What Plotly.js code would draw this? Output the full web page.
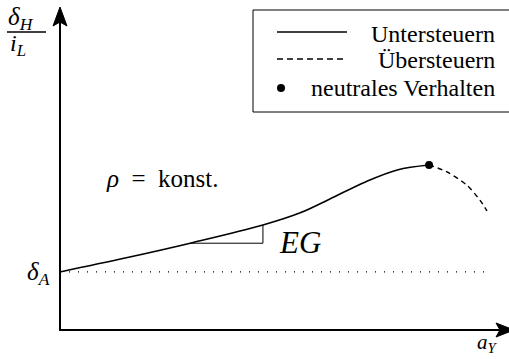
<!DOCTYPE html>
<html>
<head>
<meta charset="utf-8">
<script src="https://cdn.plot.ly/plotly-3.0.1.min.js"></script>
<style>html,body{margin:0;padding:0;background:#fff;}#chart{width:509px;height:359px;}</style>
</head>
<body>
<div id="chart"></div>
<script>
// Understeer branch (solid) (arbitrary units)
const underX = [0, 1.45, 2.90, 4.52, 5.35, 6.01, 6.79, 7.51, 8.22];
const underY = [1.76, 2.18, 2.63, 3.18, 3.55, 3.97, 4.48, 4.85, 5.00];
// Oversteer branch (dashed)
const overX = [8.22, 8.62, 9.06, 9.35, 9.51];
const overY = [5.00, 4.79, 4.39, 3.94, 3.61];
// Neutral point
const neutralX = [8.22];
const neutralY = [5.00];
// delta_A level
const deltaA = underY[0];
// Slope triangle (EG) anchored on curve points
const triStart = 2, triEnd = 3;

const legendLabels = ["Untersteuern", "Übersteuern", "neutrales Verhalten"];

const W = 509, H = 359;
const xr = [-60/44.9, 10];
const yr = [-29/33, 10];
// helpers for decoration placement (pixel -> paper / data)
const PX = p => p / W;
const PY = p => 1 - p / H;
const DX = p => (p - 60) / 44.9;
const DY = p => (330 - p) / 33;

const FONT = "'Liberation Serif', 'DejaVu Serif', 'Times New Roman', serif";

const traces = [
  {x: [0, overX[overX.length-1]], y: [deltaA, deltaA], mode: 'lines',
   line: {color: '#000', width: 1.2, dash: '1px,8px'}, hoverinfo: 'skip'},
  {x: underX, y: underY, mode: 'lines', name: legendLabels[0],
   line: {color: '#000', width: 1.6, shape: 'spline', smoothing: 1}},
  {x: overX, y: overY, mode: 'lines', name: legendLabels[1],
   line: {color: '#000', width: 1.4, dash: '5px,4px', shape: 'spline', smoothing: 0.8}},
  {x: [underX[triStart], underX[triEnd], underX[triEnd]],
   y: [underY[triStart], underY[triStart], underY[triEnd]], mode: 'lines',
   line: {color: '#000', width: 1}, hoverinfo: 'skip'},
  {x: neutralX, y: neutralY, mode: 'markers', name: legendLabels[2],
   marker: {color: '#000', size: 8}}
];

const shapes = [
  // y axis
  {type: 'line', xref: 'x', yref: 'y', x0: 0, y0: 0, x1: 0, y1: DY(22), line: {color: '#000', width: 2}},
  {type: 'path', xref: 'x', yref: 'y',
   path: `M ${DX(60)},${DY(7)} L ${DX(53)},${DY(26)} L ${DX(60)},${DY(22)} L ${DX(67)},${DY(26)} Z`,
   fillcolor: '#000', line: {color: '#000', width: 1}},
  // x axis
  {type: 'line', xref: 'x', yref: 'y', x0: DX(59), y0: 0, x1: DX(500), y1: 0, line: {color: '#000', width: 2}},
  {type: 'path', xref: 'x', yref: 'y',
   path: `M ${DX(514)},${DY(330)} L ${DX(496)},${DY(323)} L ${DX(500)},${DY(330)} L ${DX(496)},${DY(337)} Z`,
   fillcolor: '#000', line: {color: '#000', width: 1}},
  // legend box
  {type: 'rect', xref: 'paper', yref: 'paper', x0: PX(253), x1: PX(520), y0: PY(112), y1: PY(10),
   line: {color: '#000', width: 1}, fillcolor: 'rgba(0,0,0,0)'},
  {type: 'line', xref: 'paper', yref: 'paper', x0: PX(277), x1: PX(347), y0: PY(32), y1: PY(32),
   line: {color: '#000', width: 1.3}},
  {type: 'line', xref: 'paper', yref: 'paper', x0: PX(277), x1: PX(347), y0: PY(59), y1: PY(59),
   line: {color: '#000', width: 1.3, dash: '6px,4px'}},
  {type: 'circle', xref: 'paper', yref: 'paper', x0: PX(277), x1: PX(285), y0: PY(84), y1: PY(92),
   fillcolor: '#000', line: {color: '#000', width: 0}},
  // fraction bar
  {type: 'line', xref: 'paper', yref: 'paper', x0: PX(7), x1: PX(46), y0: PY(32), y1: PY(32),
   line: {color: '#000', width: 1.6}}
];

function ann(text, px, py, xa, size, ya) {
  return {text: text, xref: 'paper', yref: 'paper', x: PX(px), y: PY(py),
          xanchor: xa, yanchor: ya || 'middle', showarrow: false,
          font: {family: FONT, size: size, color: '#000'}};
}

const annotations = [
  ann(legendLabels[0], 497, 34, 'right', 24),
  ann(legendLabels[1], 497, 60, 'right', 24),
  ann(legendLabels[2], 497, 88, 'right', 24),
  ann('<i>ρ</i>\u2002=\u2002konst.', 104, 178, 'left', 25),
  ann('<i>EG</i>', 277, 242, 'left', 31),
  ann('<i>δ</i><sub><i>A</i></sub>', 52, 273, 'right', 25),
  ann('<i>a</i><sub><i>Y</i></sub>', 500, 343, 'right', 21),
  ann('<i>δ</i><sub><i>H</i></sub>', 6, 19, 'left', 25),
  ann('<i>i</i><sub><i>L</i></sub>', 8, 45, 'left', 24)
];

const layout = {
  width: W, height: H,
  margin: {l: 0, r: 0, t: 0, b: 0},
  font: {family: FONT, color: '#000'},
  paper_bgcolor: '#fff', plot_bgcolor: '#fff',
  showlegend: false,
  xaxis: {range: xr, visible: false, fixedrange: true},
  yaxis: {range: yr, visible: false, fixedrange: true},
  shapes: shapes,
  annotations: annotations
};

Plotly.newPlot('chart', traces, layout, {displayModeBar: false, staticPlot: true});
</script>
</body>
</html>
